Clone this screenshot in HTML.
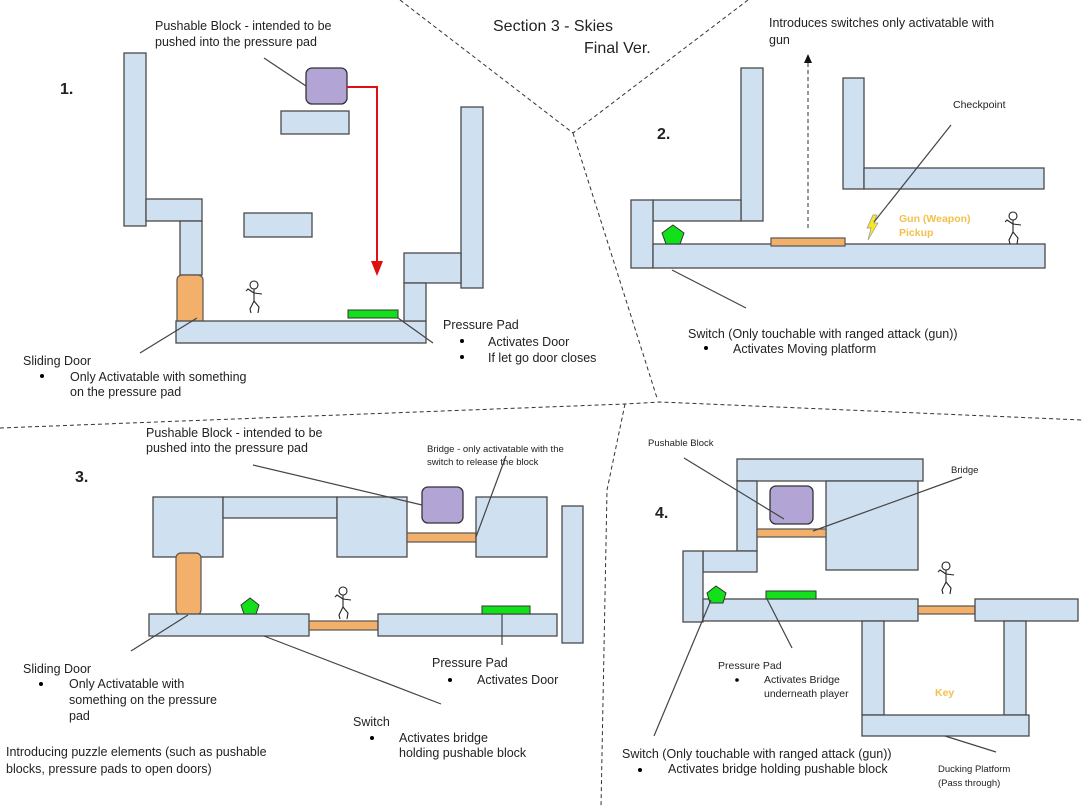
<!DOCTYPE html>
<html><head><meta charset="utf-8"><style>
html,body{margin:0;padding:0;background:#fff;}
svg{display:block;}
text{font-family:"Liberation Sans",sans-serif;fill:#222;}
.b{fill:#cfe0f1;stroke:#4a4a4a;stroke-width:1.3;}
.o{fill:#f3b06a;stroke:#555;stroke-width:1.2;}
.g{fill:#12e01a;stroke:#333;stroke-width:1;}
.p{fill:#b2a5d6;stroke:#333;stroke-width:1.3;}
.l{stroke:#444;stroke-width:1.2;fill:none;}
.d{stroke:#333;stroke-width:1;stroke-dasharray:4,3;fill:none;}
.s{stroke:#222;stroke-width:1.1;fill:none;}
</style></head><body>
<svg width="1082" height="807" viewBox="0 0 1082 807" xmlns="http://www.w3.org/2000/svg">
<defs>
<g id="stick"><circle cx="0" cy="-12" r="4" class="s"/><path class="s" d="M0,-8 L0,4 M0,4 L-4,12 L-3,16 M0,4 L5,10 L4,16 M0,-4 L-6,-8 L-8,-6 M0,-4 L8,-3"/></g>
</defs>
<!-- dividers -->
<path class="d" d="M400,0 L573,133 L748,0"/>
<path class="d" d="M573,133 L657,398"/>
<path class="d" d="M0,428 L625,404 L660,402 L1082,420"/>
<path class="d" d="M625,404 L607,490 L601,807"/>

<!-- title -->
<text x="493" y="31" font-size="16">Section 3 - Skies</text>
<text x="584" y="53" font-size="16">Final Ver.</text>

<!-- SECTION 1 -->
<text x="60" y="94" font-size="16" font-weight="bold">1.</text>
<rect class="b" x="124" y="53" width="22" height="173"/>
<rect class="b" x="146" y="199" width="56" height="22"/>
<rect class="b" x="180" y="221" width="22" height="54"/>
<rect class="o" x="177" y="275" width="26" height="57" rx="5"/>
<rect class="b" x="176" y="321" width="250" height="22"/>
<rect class="b" x="281" y="111" width="68" height="23"/>
<rect class="p" x="306" y="68" width="41" height="36" rx="6"/>
<rect class="b" x="244" y="213" width="68" height="24"/>
<rect class="b" x="461" y="107" width="22" height="181"/>
<rect class="b" x="404" y="253" width="57" height="30"/>
<rect class="b" x="404" y="283" width="22" height="38"/>
<rect class="g" x="348" y="310" width="50" height="8"/>
<path d="M347,87 L377,87 L377,262" stroke="#e01010" stroke-width="2" fill="none"/>
<polygon points="371,261 383,261 377,276" fill="#e01010"/>
<line class="l" x1="264" y1="58" x2="306" y2="86"/>
<line class="l" x1="140" y1="353" x2="197" y2="318"/>
<line class="l" x1="398" y1="318" x2="433" y2="343"/>
<use href="#stick" transform="translate(254,297)"/>
<text x="155" y="30" font-size="12.5">Pushable Block - intended to be</text>
<text x="155" y="46" font-size="12.5">pushed into the pressure pad</text>
<text x="23" y="365" font-size="12.5">Sliding Door</text>
<circle cx="42" cy="376" r="2"/>
<text x="70" y="381" font-size="12.5">Only Activatable with something</text>
<text x="70" y="396" font-size="12.5">on the pressure pad</text>
<text x="443" y="329" font-size="12.5">Pressure Pad</text>
<circle cx="462" cy="341" r="2"/>
<text x="488" y="346" font-size="12.5">Activates Door</text>
<circle cx="462" cy="357" r="2"/>
<text x="488" y="362" font-size="12.5">If let go door closes</text>

<!-- SECTION 2 -->
<text x="657" y="139" font-size="16" font-weight="bold">2.</text>
<text x="769" y="27" font-size="12.5">Introduces switches only activatable with</text>
<text x="769" y="44" font-size="12.5">gun</text>
<line class="d" x1="808" y1="228" x2="808" y2="62" stroke-dasharray="5,3"/>
<polygon points="804,63 812,63 808,54" fill="#111"/>
<rect class="b" x="741" y="68" width="22" height="153"/>
<rect class="b" x="653" y="200" width="88" height="21"/>
<rect class="b" x="631" y="200" width="22" height="68"/>
<rect class="b" x="653" y="244" width="392" height="24"/>
<rect class="b" x="843" y="78" width="21" height="111"/>
<rect class="b" x="864" y="168" width="180" height="21"/>
<polygon class="g" points="673,225 684,233 680,244 666,244 662,233"/>
<rect class="o" x="771" y="238" width="74" height="8"/>
<polygon points="873,215 877,215 874,223 878,223 868,240 871,228 867,228" fill="#f5e62a" stroke="#999" stroke-width="0.7"/>
<line class="l" x1="951" y1="125" x2="874" y2="222"/>
<text x="953" y="108" font-size="10.5">Checkpoint</text>
<text x="899" y="222" font-size="10.5" font-weight="bold" style="fill:#f3c04a">Gun (Weapon)</text>
<text x="899" y="236" font-size="10.5" font-weight="bold" style="fill:#f3c04a">Pickup</text>
<use href="#stick" transform="translate(1013,228)"/>
<line class="l" x1="672" y1="270" x2="746" y2="308"/>
<text x="688" y="338" font-size="12.5">Switch (Only touchable with ranged attack (gun))</text>
<circle cx="706" cy="348" r="2"/>
<text x="733" y="353" font-size="12.5">Activates Moving platform</text>

<!-- SECTION 3 -->
<text x="75" y="482" font-size="16" font-weight="bold">3.</text>
<rect class="b" x="153" y="497" width="70" height="60"/>
<rect class="b" x="223" y="497" width="114" height="21"/>
<rect class="b" x="337" y="497" width="70" height="60"/>
<rect class="p" x="422" y="487" width="41" height="36" rx="6"/>
<rect class="o" x="407" y="533" width="69" height="9"/>
<rect class="b" x="476" y="497" width="71" height="60"/>
<rect class="b" x="562" y="506" width="21" height="137"/>
<rect class="o" x="176" y="553" width="25" height="62" rx="5"/>
<rect class="b" x="149" y="614" width="160" height="22"/>
<rect class="o" x="309" y="621" width="69" height="9"/>
<rect class="b" x="378" y="614" width="179" height="22"/>
<rect class="g" x="482" y="606" width="48" height="8"/>
<polygon class="g" points="250,598 259,605 256,614 244,614 241,605"/>
<use href="#stick" transform="translate(343,603)"/>
<line class="l" x1="253" y1="465" x2="422" y2="505"/>
<line class="l" x1="506" y1="456" x2="476" y2="537"/>
<line class="l" x1="131" y1="651" x2="188" y2="615"/>
<line class="l" x1="264" y1="636" x2="441" y2="704"/>
<line class="l" x1="502" y1="614" x2="502" y2="645"/>
<text x="146" y="437" font-size="12.5">Pushable Block - intended to be</text>
<text x="146" y="452" font-size="12.5">pushed into the pressure pad</text>
<text x="427" y="452" font-size="9.5">Bridge - only activatable with the</text>
<text x="427" y="465" font-size="9.5">switch to release the block</text>
<text x="23" y="673" font-size="12.5">Sliding Door</text>
<circle cx="41" cy="684" r="2"/>
<text x="69" y="688" font-size="12.5">Only Activatable with</text>
<text x="69" y="704" font-size="12.5">something on the pressure</text>
<text x="69" y="720" font-size="12.5">pad</text>
<text x="432" y="667" font-size="12.5">Pressure Pad</text>
<circle cx="450" cy="680" r="2"/>
<text x="477" y="684" font-size="12.5">Activates Door</text>
<text x="353" y="726" font-size="12.5">Switch</text>
<circle cx="372" cy="738" r="2"/>
<text x="399" y="742" font-size="12.5">Activates bridge</text>
<text x="399" y="757" font-size="12.5">holding pushable block</text>
<text x="6" y="756" font-size="12.5">Introducing puzzle elements (such as pushable</text>
<text x="6" y="773" font-size="12.5">blocks, pressure pads to open doors)</text>

<!-- SECTION 4 -->
<text x="655" y="518" font-size="16" font-weight="bold">4.</text>
<rect class="b" x="737" y="459" width="186" height="22"/>
<rect class="b" x="737" y="481" width="20" height="70"/>
<rect class="b" x="826" y="481" width="92" height="89"/>
<rect class="p" x="770" y="486" width="43" height="38" rx="6"/>
<rect class="o" x="757" y="529" width="69" height="8"/>
<rect class="b" x="703" y="551" width="54" height="21"/>
<rect class="b" x="683" y="551" width="20" height="71"/>
<rect class="b" x="703" y="599" width="215" height="22"/>
<polygon class="g" points="716,586 726,593 723,603 710,603 707,593"/>
<rect class="g" x="766" y="591" width="50" height="8"/>
<rect class="o" x="918" y="606" width="57" height="8"/>
<rect class="b" x="975" y="599" width="103" height="22"/>
<rect class="b" x="862" y="621" width="22" height="94"/>
<rect class="b" x="1004" y="621" width="22" height="94"/>
<rect class="b" x="862" y="715" width="167" height="21"/>
<use href="#stick" transform="translate(946,578)"/>
<line class="l" x1="684" y1="458" x2="784" y2="519"/>
<line class="l" x1="962" y1="477" x2="813" y2="531"/>
<line class="l" x1="767" y1="599" x2="792" y2="648"/>
<line class="l" x1="711" y1="600" x2="654" y2="736"/>
<line class="l" x1="945" y1="736" x2="996" y2="752"/>
<text x="648" y="446" font-size="9.5">Pushable Block</text>
<text x="951" y="473" font-size="9.5">Bridge</text>
<text x="935" y="696" font-size="10.5" font-weight="bold" style="fill:#f3c04a">Key</text>
<text x="718" y="669" font-size="10.5">Pressure Pad</text>
<circle cx="737" cy="680" r="1.8"/>
<text x="764" y="683" font-size="10.5">Activates Bridge</text>
<text x="764" y="697" font-size="10.5">underneath player</text>
<text x="622" y="758" font-size="12.5">Switch (Only touchable with ranged attack (gun))</text>
<circle cx="640" cy="770" r="2"/>
<text x="668" y="773" font-size="12.5">Activates bridge holding pushable block</text>
<text x="938" y="772" font-size="9.5">Ducking Platform</text>
<text x="938" y="786" font-size="9.5">(Pass through)</text>
</svg>
</body></html>
